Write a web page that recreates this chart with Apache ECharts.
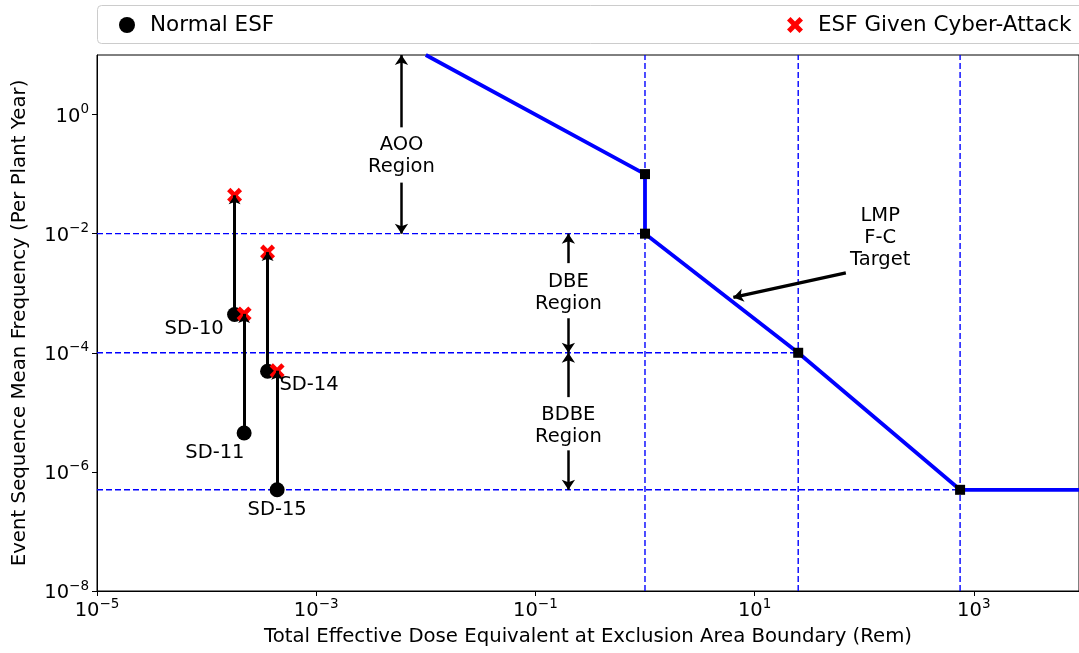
<!DOCTYPE html>
<html><head><meta charset="utf-8">
<script src="https://cdn.jsdelivr.net/npm/echarts@6/dist/echarts.min.js"></script>
<style>html,body{margin:0;padding:0;background:#fff}#c{width:1079px;height:653px}</style>
</head><body><div id="c"></div>
<script>
// ---- data (real units) ----
const sdNames = ['SD-10', 'SD-11', 'SD-14', 'SD-15'];
const sdDose = [1.8e-4, 2.2e-4, 3.6e-4, 4.4e-4];
const normalFreq = [4.4e-4, 4.5e-6, 4.9e-5, 5.0e-7];
const cyberFreq = [4.4e-2, 4.5e-4, 4.9e-3, 5.0e-5];
const sdLabelDose = [7.7e-5, 1.19e-4, 8.6e-4, 4.4e-4];
const sdLabelFreq = [2.5e-4, 2.1e-6, 2.85e-5, 2.26e-7];

const fcDose = [0.01, 1, 1, 25, 750, 1e4];
const fcFreq = [10, 0.1, 0.01, 1e-4, 5e-7, 5e-7];
const fcCornerDose = [1, 1, 25, 750];
const fcCornerFreq = [0.1, 0.01, 1e-4, 5e-7];

const refDose = [1, 25, 750];
const refFreq = [1e-2, 1e-4, 5e-7];

const xTickExp = [-5, -3, -1, 1, 3];
const yTickExp = [-8, -6, -4, -2, 0];
const xMinExp = -5, xMaxExp = 3.96, yMinExp = -8, yMaxExp = 1;

const regionNames = ['AOO\nRegion', 'DBE\nRegion', 'BDBE\nRegion'];
const regionDose = [0.006, 0.2, 0.2];
const regionTextFreq = [0.2, 1e-3, 5.8e-6];
const regionUpFrom = [0.61, 3.2e-3, 1.8e-5];
const regionUpTo = [10, 1e-2, 1e-4];
const regionDownFrom = [0.072, 3.8e-4, 2.3e-6];
const regionDownTo = [1e-2, 1e-4, 5e-7];

const lmpText = 'LMP\nF-C\nTarget';
const lmpTextPos = [140, 8.4e-3];
const lmpArrowFrom = [68, 2.2e-3];
const lmpArrowTo = [6.4, 8.5e-4];

// ---- helpers ----
const L = Math.log10;
const FONT = 'DejaVu Sans';
const FS = 19.5;
const xPath = 'path://M0,2.2 L2.2,0 L5,2.8 L7.8,0 L10,2.2 L7.2,5 L10,7.8 L7.8,10 L5,7.2 L2.2,10 L0,7.8 L2.8,5 Z';
const supFmt = v => '{b|10}{s|' + String(v).replace('-', '\u2212') + '}';
const supRich = {
  b: { fontSize: FS, fontFamily: FONT, color: '#000', verticalAlign: 'bottom', lineHeight: 24 },
  s: { fontSize: 13.5, fontFamily: FONT, color: '#000', verticalAlign: 'top', lineHeight: 14 }
};

// dashed reference line series (horizontal to each corner, vertical full height)
const refSeries = [];
refDose.forEach((d, i) => {
  [[[xMinExp, L(refFreq[i])], [L(d), L(refFreq[i])]],
   [[L(d), yMinExp], [L(d), yMaxExp]]].forEach(seg => {
    refSeries.push({
      type: 'line', z: 2, silent: true, symbol: 'none', animation: false,
      data: seg,
      lineStyle: { color: '#0000ff', width: 1.4, type: [6, 3] },
      itemStyle: { color: '#0000ff' }
    });
  });
});

const sdArrows = sdDose.map((d, i) => [{ coord: [L(d), L(normalFreq[i])] }, { coord: [L(d), L(cyberFreq[i])] }]);

const annArrows = [];
regionDose.forEach((d, i) => {
  annArrows.push([{ coord: [L(d), L(regionUpFrom[i])] }, { coord: [L(d), L(regionUpTo[i])] }]);
  annArrows.push([{ coord: [L(d), L(regionDownFrom[i])] }, { coord: [L(d), L(regionDownTo[i])] }]);
});
annArrows.push([{ coord: [L(lmpArrowFrom[0]), L(lmpArrowFrom[1])], symbolSize: 13, lineStyle: { width: 3.2, color: '#000' } },
  { coord: [L(lmpArrowTo[0]), L(lmpArrowTo[1])] }]);

const textItems = [];
sdNames.forEach((n, i) => textItems.push({ name: n, value: [L(sdLabelDose[i]), L(sdLabelFreq[i])] }));
regionNames.forEach((n, i) => textItems.push({ name: n, value: [L(regionDose[i]), L(regionTextFreq[i])] }));
textItems.push({ name: lmpText, value: [L(lmpTextPos[0]), L(lmpTextPos[1])] });

const chart = echarts.init(document.getElementById('c'), null, { renderer: 'canvas' });
chart.setOption({
  animation: false,
  backgroundColor: '#fff',
  textStyle: { fontFamily: FONT },
  grid: { left: 97, right: -3, top: 55, bottom: 62, show: true, borderColor: '#000', borderWidth: 1, backgroundColor: 'transparent' },
  graphic: [{
    type: 'rect', left: 97, top: 5, z: 0,
    shape: { width: 995, height: 38, r: 4 },
    style: { fill: '#fff', stroke: '#cccccc', lineWidth: 1 }
  }],
  legend: [
    { data: ['Normal ESF'], left: 119, top: 14, padding: 0, itemWidth: 16, itemHeight: 16, z: 10,
      textStyle: { fontSize: 21.5, fontFamily: FONT, color: '#000', padding: [0, 0, 0, 10] } },
    { data: ['ESF Given Cyber-Attack'], left: 787, top: 14, padding: 0, itemWidth: 16, itemHeight: 16, z: 10,
      textStyle: { fontSize: 21.5, fontFamily: FONT, color: '#000', padding: [0, 0, 0, 10] } }
  ],
  xAxis: {
    type: 'value', min: xMinExp, max: xMaxExp,
    name: 'Total Effective Dose Equivalent at Exclusion Area Boundary (Rem)',
    nameLocation: 'middle', nameGap: 36,
    nameTextStyle: { fontSize: 19.7, fontFamily: FONT, color: '#000' },
    axisLine: { show: true, onZero: false, lineStyle: { color: '#000', width: 1 } },
    axisTick: { show: true, length: 5, lineStyle: { color: '#000' }, customValues: xTickExp },
    axisLabel: { customValues: xTickExp, margin: 6, formatter: supFmt, rich: supRich },
    splitLine: { show: false }
  },
  yAxis: {
    type: 'value', min: yMinExp, max: yMaxExp,
    name: 'Event Sequence Mean Frequency (Per Plant Year)',
    nameLocation: 'middle', nameGap: 67,
    nameTextStyle: { fontSize: 19.8, fontFamily: FONT, color: '#000' },
    axisLine: { show: true, onZero: false, lineStyle: { color: '#000', width: 1 } },
    axisTick: { show: true, length: 5, lineStyle: { color: '#000' }, customValues: yTickExp },
    axisLabel: { customValues: yTickExp, margin: 8, formatter: supFmt, rich: supRich },
    splitLine: { show: false }
  },
  series: refSeries.concat([
    {
      name: 'LMP F-C Target', type: 'line', z: 3, symbol: 'none', silent: true,
      data: fcDose.map((d, i) => [L(d), L(fcFreq[i])]),
      lineStyle: { color: '#0000ff', width: 3.8 },
      itemStyle: { color: '#0000ff' }
    },
    {
      name: 'corners', type: 'scatter', z: 4, symbol: 'rect', symbolSize: 10, silent: true,
      itemStyle: { color: '#000', opacity: 1 },
      data: fcCornerDose.map((d, i) => [L(d), L(fcCornerFreq[i])])
    },
    {
      name: 'Normal ESF', type: 'scatter', z: 5, symbol: 'circle', symbolSize: 15, silent: true,
      itemStyle: { color: '#000', opacity: 1 },
      data: sdDose.map((d, i) => [L(d), L(normalFreq[i])])
    },
    {
      name: 'ESF Given Cyber-Attack', type: 'scatter', z: 5, symbol: xPath, symbolSize: 15, silent: true,
      itemStyle: { color: '#ff0000', opacity: 1 },
      data: sdDose.map((d, i) => [L(d), L(cyberFreq[i])]),
      markLine: {
        silent: true, z: 6, symbol: ['none', 'arrow'], symbolSize: 9, label: { show: false },
        lineStyle: { color: '#000', width: 3, type: 'solid', opacity: 1 },
        itemStyle: { color: '#000' },
        emphasis: { disabled: true },
        data: sdArrows
      }
    },
    {
      name: 'texts', type: 'scatter', z: 7, symbolSize: 0, silent: true,
      itemStyle: { color: 'transparent', opacity: 1 },
      label: { show: true, position: 'inside', formatter: '{b}', fontSize: FS, fontFamily: FONT, color: '#000', lineHeight: 22, align: 'center' },
      data: textItems,
      markLine: {
        silent: true, z: 6, symbol: ['none', 'arrow'], symbolSize: 10, label: { show: false },
        lineStyle: { color: '#000', width: 2.5, type: 'solid', opacity: 1 },
        itemStyle: { color: '#000' },
        emphasis: { disabled: true },
        data: annArrows
      }
    }
  ])
});
</script></body></html>
